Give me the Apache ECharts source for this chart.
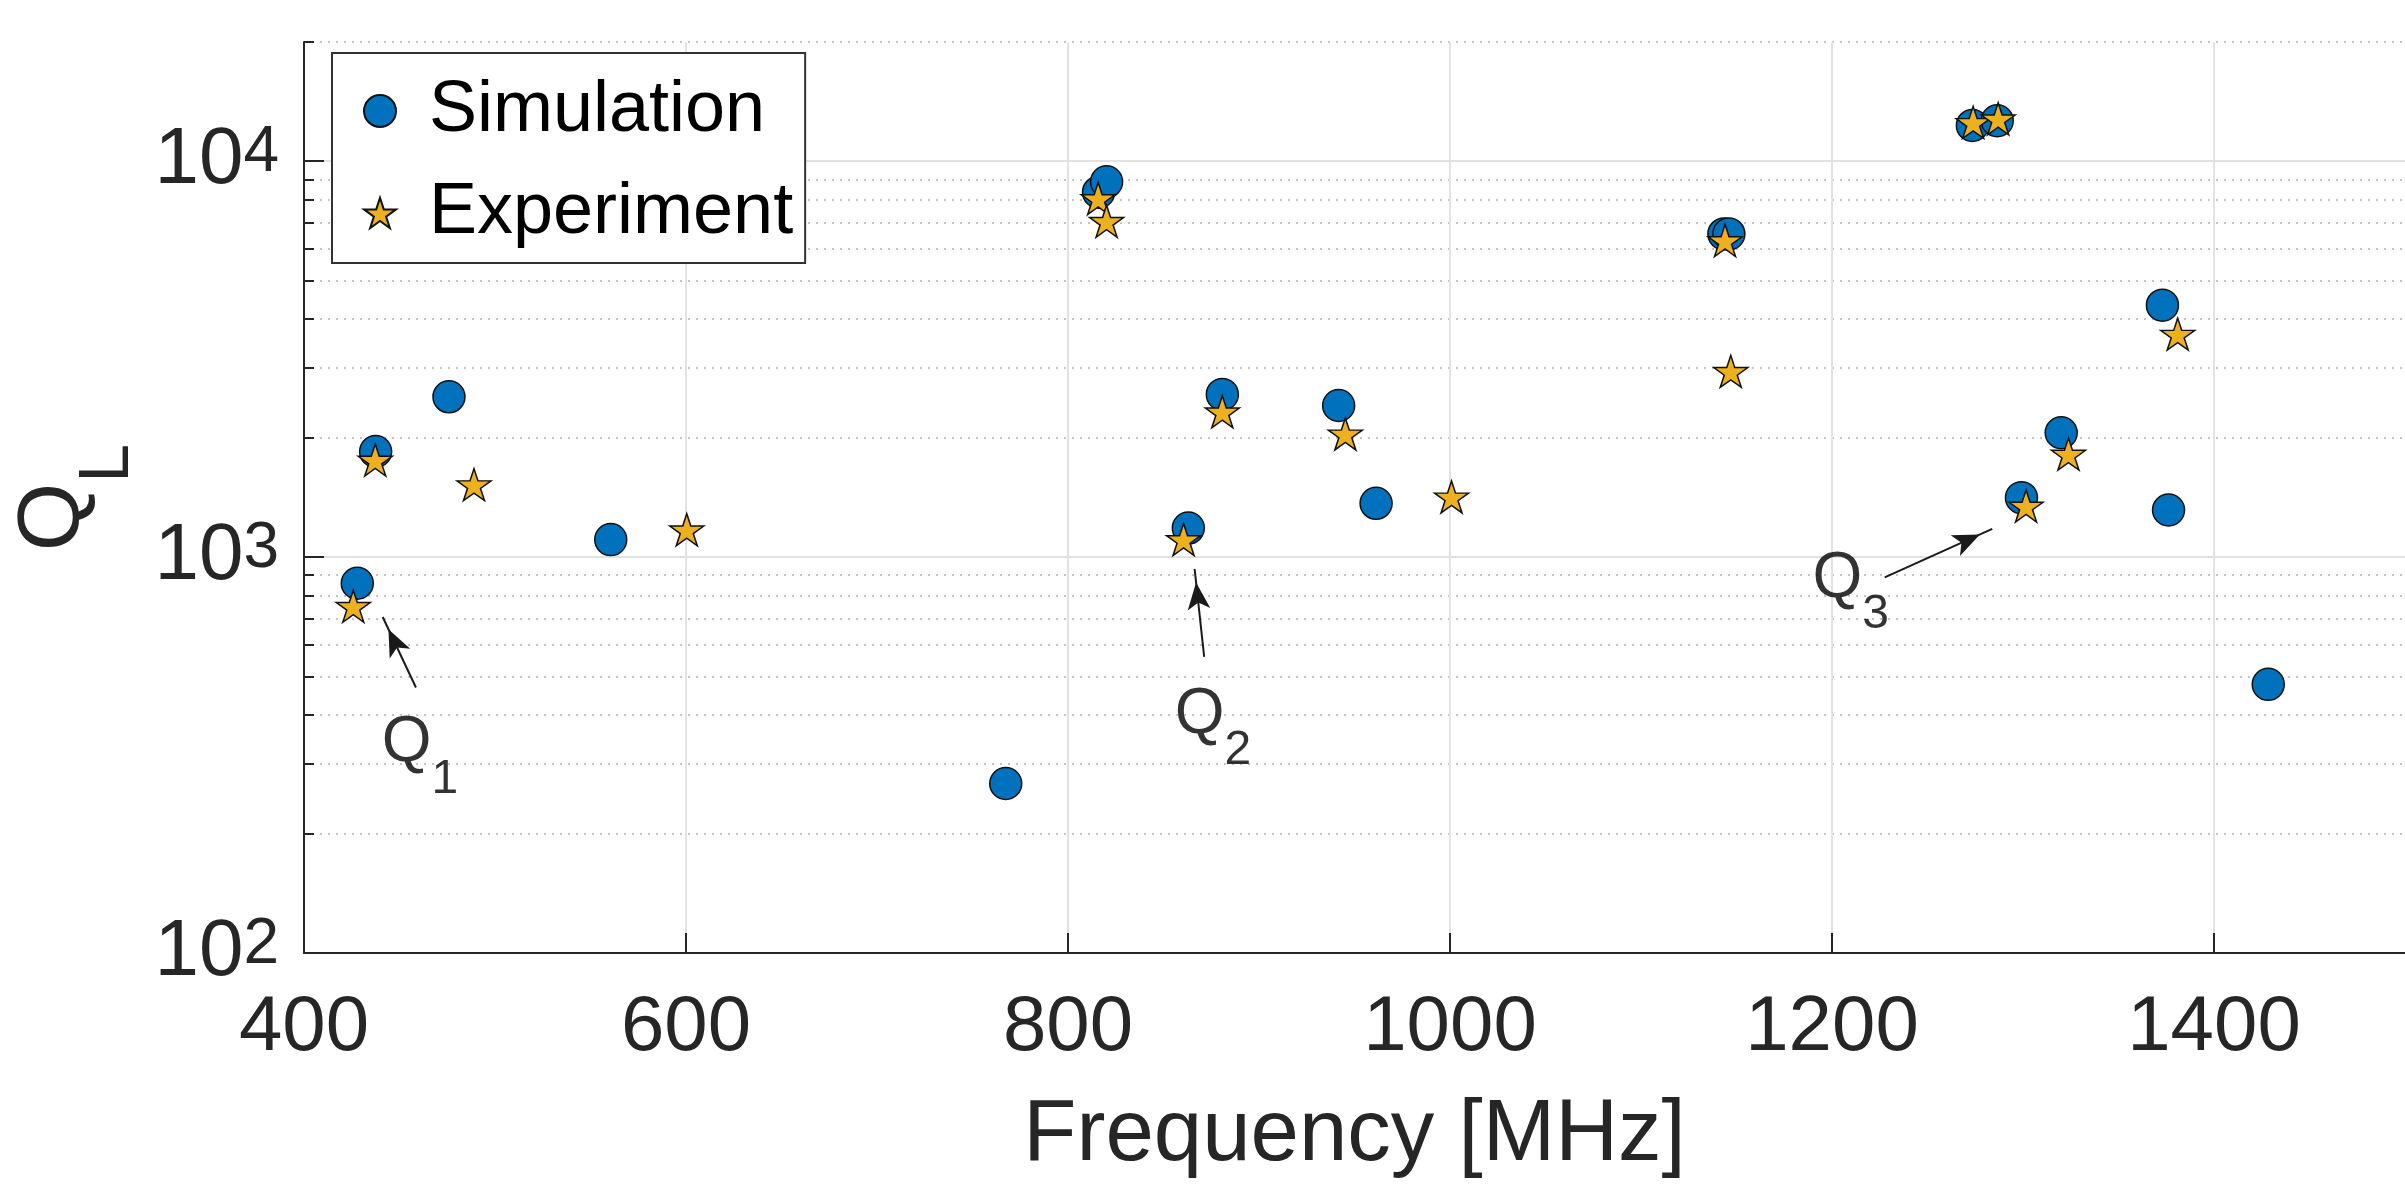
<!DOCTYPE html>
<html lang="en" style="height: 100%">

<head>
    <meta charset="utf-8">
</head>

<body style="height: 100%; margin: 0">
    <div id="container" style="width: 2405px; height: 1185px"></div>
    <script type="text/javascript" src="https://fastly.jsdelivr.net/npm/echarts@6/dist/echarts.min.js"></script>
    <script type="text/javascript">
    // values
    const simFreq = [427.9, 437.5, 475.9, 560.6, 767.4, 816.0, 820.2, 863.0, 880.8, 941.7, 961.3, 1143.4, 1146.0, 1273.5, 1286.5, 1299.2, 1320.0, 1373.0, 1376.2, 1428.4];
    const simQ = [859, 1848, 2540, 1107, 268, 8350, 8870, 1184, 2576, 2415, 1367, 6550, 6550, 12310, 12650, 1413, 2061, 4327, 1315, 477];

    const expFreq = [425.8, 437.3, 489.0, 600.4, 815.8, 820.2, 860.5, 880.8, 945.2, 1000.8, 1144.0, 1147.0, 1273.9, 1287.0, 1301.6, 1323.8, 1381.0];
    const expQ = [751, 1758, 1524, 1172, 8050, 7050, 1108, 2328, 2047, 1419, 6302, 2945, 12530, 12800, 1346, 1820, 3657];

    const xTicks = [400, 600, 800, 1000, 1200, 1400];
    const yMajorTicks = [100, 1000, 10000];
    const yMinorTicks = [200, 300, 400, 500, 600, 700, 800, 900, 2000, 3000, 4000, 5000, 6000, 7000, 8000, 9000, 20000];

    // annotations Q1..Q3: text anchor and arrow (tail -> tip)
    const noteNames = ['1', '2', '3'];
    const noteAt = [[441, 406], [856.2, 479], [1190, 1057]];
    const arrowFrom = [[458.6, 468.5], [871.3, 560], [1227.6, 889]];
    const arrowTo = [[441.2, 706], [866.3, 933], [1283.9, 1178]];

    const FONT = 'Liberation Sans';
    const axisColor = '#262626';
    const starPath = 'path://M50 0 L61.23 34.55 L97.55 34.55 L68.17 55.9 L79.39 90.45 L50 69.1 L20.61 90.45 L31.83 55.9 L2.45 34.55 L38.77 34.55 Z';

    var dom = document.getElementById('container');
    var myChart = echarts.init(dom, null, { renderer: 'canvas' });

    var option = {
        animation: false,
        backgroundColor: '#fff',
        textStyle: { fontFamily: FONT },
        grid: { left: 304, top: 42, right: -13, bottom: 219 },
        legend: {
            orient: 'vertical',
            left: 332,
            top: 53,
            data: ['Simulation', 'Experiment'],
            selectedMode: false,
            itemWidth: 32,
            itemHeight: 32,
            itemGap: 30,
            padding: [22, 12, 14, 31],
            borderColor: '#333',
            borderWidth: 2,
            backgroundColor: '#fff',
            formatter: '{t|{name}}',
            textStyle: {
                fontSize: 72,
                color: '#000',
                fontFamily: FONT,
                rich: { t: { fontSize: 72, color: '#000', fontFamily: FONT, padding: [0, 0, 0, 28] } }
            }
        },
        xAxis: {
            type: 'value',
            min: 400,
            max: 1500,
            interval: 200,
            name: 'Frequency [MHz]',
            nameLocation: 'middle',
            nameGap: 140,
            nameTextStyle: { fontSize: 87, color: axisColor, fontFamily: FONT },
            axisLine: { show: true, lineStyle: { color: axisColor, width: 2 } },
            axisTick: { show: true, inside: true, length: 20, customValues: xTicks, lineStyle: { color: axisColor, width: 2 } },
            axisLabel: {
                customValues: xTicks,
                fontSize: 78,
                margin: 36,
                color: axisColor,
                fontFamily: FONT,
                formatter: function(v) { return String(v); }
            },
            splitLine: { show: true, lineStyle: { color: '#e2e2e2', width: 2 } }
        },
        yAxis: [{
                type: 'log',
                logBase: 10,
                min: 100,
                max: 20000,
                name: '{q|Q}{l|L}',
                nameLocation: 'middle',
                nameRotate: 90,
                nameGap: 160,
                nameTextStyle: {
                    color: axisColor,
                    fontFamily: FONT,
                    rich: {
                        q: { fontSize: 88, lineHeight: 88, verticalAlign: 'top', color: axisColor, fontFamily: FONT },
                        l: { fontSize: 70, lineHeight: 70, padding: [63, 0, 0, 0], verticalAlign: 'top', color: axisColor, fontFamily: FONT }
                    }
                },
                axisLine: { show: true, lineStyle: { color: axisColor, width: 2 } },
                axisTick: { show: true, inside: true, length: 20, customValues: yMajorTicks, lineStyle: { color: axisColor, width: 2 } },
                axisLabel: {
                    customValues: yMajorTicks,
                    margin: 25,
                    formatter: function(v) {
                        return '{b|10}{e|' + Math.round(Math.log10(v)) + '}';
                    },
                    rich: {
                        b: { fontSize: 80, lineHeight: 80, verticalAlign: 'bottom', color: axisColor, fontFamily: FONT },
                        e: { fontSize: 64, lineHeight: 64, padding: [0, 0, 46, 0], verticalAlign: 'top', color: axisColor, fontFamily: FONT }
                    }
                },
                splitLine: { show: true, lineStyle: { color: '#e2e2e2', width: 2 } }
            },
            {
                // minor ticks and dotted minor grid
                type: 'log',
                logBase: 10,
                min: 100,
                max: 20000,
                position: 'left',
                axisLine: { show: false },
                axisTick: { show: true, inside: true, length: 10, customValues: yMinorTicks, lineStyle: { color: axisColor, width: 2 } },
                axisLabel: { show: false },
                splitLine: { show: true, lineStyle: { color: '#c4c4c4', width: 2, type: [2, 6] } }
            }
        ],
        series: [{
                name: 'Simulation',
                type: 'scatter',
                yAxisIndex: 0,
                symbol: 'circle',
                symbolSize: 32,
                itemStyle: { color: '#0072BD', borderColor: '#111', borderWidth: 1.5, opacity: 1 },
                data: simFreq.map((f, i) => [f, simQ[i]]),
                z: 3
            },
            {
                name: 'Experiment',
                type: 'scatter',
                yAxisIndex: 0,
                symbol: starPath,
                symbolSize: [34, 32],
                itemStyle: { color: '#EDB120', borderColor: '#111', borderWidth: 1.5, opacity: 1 },
                data: expFreq.map((f, i) => [f, expQ[i]]),
                z: 4
            },
            {
                name: 'notes',
                type: 'scatter',
                yAxisIndex: 0,
                silent: true,
                symbolSize: 1,
                itemStyle: { color: 'transparent' },
                data: noteAt.map((p, i) => ({ name: noteNames[i], value: p })),
                label: {
                    show: true,
                    position: [0, 0],
                    align: 'left',
                    verticalAlign: 'top',
                    formatter: function(p) {
                        return '{q|Q}{s|' + p.name + '}';
                    },
                    rich: {
                        q: { fontSize: 64, lineHeight: 64, verticalAlign: 'top', color: '#000', fontFamily: FONT },
                        s: { fontSize: 48, lineHeight: 48, padding: [44, 0, 0, 0], verticalAlign: 'top', color: '#000', fontFamily: FONT }
                    }
                },
                markLine: {
                    silent: true,
                    symbol: ['none', 'arrow'],
                    symbolSize: [17, 27],
                    symbolOffset: [0, [0, 13.5]],
                    label: { show: false },
                    lineStyle: { color: '#1a1a1a', width: 2, type: 'solid' },
                    emphasis: { disabled: true },
                    data: arrowFrom.map((a, i) => [{ coord: a }, { coord: arrowTo[i] }])
                },
                z: 5
            }
        ]
    };

    myChart.setOption(option);
    window.addEventListener('resize', myChart.resize);
    </script>
</body>

</html>
